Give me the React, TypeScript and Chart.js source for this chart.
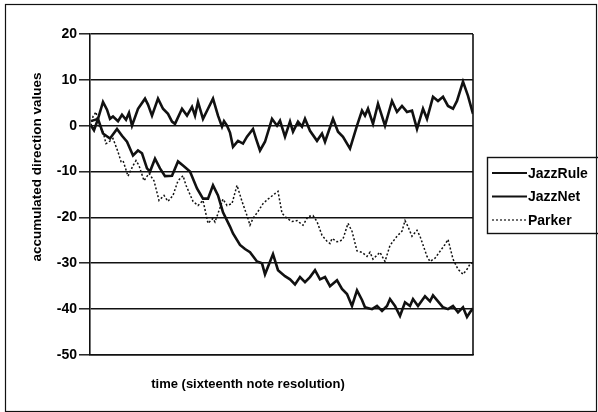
import { useEffect, useRef } from "react";
import { Chart, registerables } from "chart.js";
Chart.register(...registerables);

const TITLE_Y = "accumulated direction values";
const TITLE_X = "time (sixteenth note resolution)";
const SERIES_NAMES = ["JazzRule", "JazzNet", "Parker"];
const Y_MIN = -50;
const Y_MAX = 20;
const Y_STEP = 10;
const T_MAX = 383;

const RULE_T = [1, 4, 8, 13, 17, 20, 23, 28, 32, 36, 39, 42, 48, 55, 58, 62, 68, 73, 78, 82, 85, 92, 97, 102, 105, 108, 113, 118, 123, 128, 132, 134, 137, 140, 143, 148, 153, 157, 163, 166, 170, 175, 182, 187, 190, 195, 200, 203, 208, 212, 215, 220, 227, 232, 235, 243, 248, 253, 260, 267, 272, 275, 278, 283, 288, 295, 302, 307, 312, 317, 322, 327, 333, 337, 343, 348, 353, 358, 363, 367, 373, 378, 383];
const RULE_V = [0, -1, 1.5, 5.2, 3.5, 1.5, 2, 1, 2.4, 1.3, 2.8, 0, 3.7, 5.9, 4.6, 2.2, 5.9, 3.7, 2.6, 0.9, 0.4, 3.7, 2.2, 4.1, 2.2, 5.2, 1.5, 3.7, 5.9, 2.2, -0.2, 1, 0, -1.5, -4.6, -3.3, -3.9, -2.4, -0.7, -2.8, -5.4, -3.5, 1.5, 0, 1.1, -2.4, 0.9, -1.3, 0.9, -0.2, 1.5, -1.1, -3.3, -1.7, -3.5, 1.5, -1.3, -2.4, -5, 0, 3.3, 2.2, 3.7, 0.4, 4.8, 0, 5.4, 3, 4.3, 3, 3.3, -0.7, 3.7, 1.5, 6.3, 5.4, 6.3, 4.3, 3.7, 5.4, 9.6, 6.5, 2.6];

const NET_T = [1, 8, 13, 20, 27, 32, 37, 43, 48, 52, 57, 60, 65, 70, 75, 82, 88, 93, 100, 107, 113, 118, 123, 128, 133, 140, 143, 150, 155, 160, 167, 172, 175, 183, 188, 195, 200, 205, 210, 215, 220, 225, 230, 235, 240, 247, 252, 257, 262, 267, 272, 275, 282, 287, 292, 297, 300, 305, 310, 315, 320, 323, 328, 335, 340, 343, 348, 353, 358, 363, 368, 373, 377, 380, 383];
const NET_V = [1, 1.5, -1.7, -2.8, -0.7, -2.2, -3.5, -6.5, -5.4, -6, -9.3, -10, -7.2, -9.3, -11, -10.9, -7.8, -8.7, -10, -13.7, -15.9, -15.9, -13, -15.2, -18.9, -22, -23.5, -26, -26.9, -27.6, -29.6, -30, -32.4, -28, -31.5, -32.8, -33.5, -34.6, -33, -34.1, -33, -31.5, -33.5, -33, -35, -33.7, -35.6, -36.7, -39.3, -35.9, -38, -39.6, -40, -39.3, -40.4, -39.3, -37.8, -39.3, -41.5, -38.5, -39.3, -37.8, -39.3, -37.2, -38.3, -37, -38.3, -39.6, -40, -39.3, -40.7, -39.6, -41.7, -40.7, -39.8];

const PARKER_T = [1, 3, 6, 9, 13, 16, 19, 23, 28, 31, 33, 38, 43, 46, 49, 54, 59, 64, 69, 74, 78, 83, 88, 93, 96, 103, 108, 113, 118, 123, 125, 133, 137, 142, 147, 152, 157, 160, 163, 168, 173, 178, 185, 188, 192, 197, 202, 207, 213, 218, 223, 227, 232, 237, 240, 242, 245, 247, 250, 253, 258, 262, 267, 272, 277, 280, 283, 290, 295, 300, 307, 312, 315, 318, 322, 327, 330, 337, 340, 345, 350, 355, 358, 363, 368, 373, 377, 380, 383];
const PARKER_V = [0, 2, 3, 0, -1.3, -3.9, -3.5, -2.8, -5.7, -7.8, -7.6, -11, -8.7, -7.6, -8.7, -12, -10.4, -12, -16.3, -15.2, -16.5, -15.2, -12, -10.9, -13, -16.5, -17.4, -16.3, -21.3, -20.2, -21, -16, -17.4, -17, -13, -16.5, -19.6, -21.7, -20.2, -18.7, -17, -16, -14.8, -14.3, -19.1, -20.2, -20.9, -20.7, -21.7, -19.8, -19.6, -20.9, -23.9, -25.2, -25.7, -24.6, -25, -25.3, -25.2, -24.7, -21.3, -23, -27.3, -27.6, -28.5, -27.6, -29.1, -27.6, -29.6, -26.1, -24.1, -23, -20.7, -22, -24.1, -22.8, -24.1, -28.5, -29.6, -28.9, -27.4, -25.9, -24.8, -29.1, -31.3, -32.4, -31.3, -30.2, -29.8];

const INK = "#111";
const FONT = "'Liberation Sans', Arial, sans-serif";

function toPoints(ts: number[], vs: number[]) {
  return ts.map((t, i) => ({ x: t, y: vs[i] }));
}

const framePlugin = {
  id: "frame",
  afterDraw(chart: any) {
    const ctx = chart.ctx;
    const a = chart.chartArea;
    ctx.save();
    ctx.strokeStyle = INK;
    // outer border
    ctx.lineWidth = 1.2;
    ctx.strokeRect(5.5, 4.5, 591, 407);
    // right border of plot area
    ctx.lineWidth = 1.6;
    ctx.beginPath();
    ctx.moveTo(a.right, a.top);
    ctx.lineTo(a.right, a.bottom);
    ctx.stroke();
    // axis titles
    ctx.fillStyle = "#000";
    ctx.font = `bold 13.5px ${FONT}`;
    ctx.textAlign = "center";
    ctx.textBaseline = "middle";
    ctx.save();
    ctx.translate(37, 167);
    ctx.rotate(-Math.PI / 2);
    ctx.fillText(TITLE_Y, 0, 0);
    ctx.restore();
    ctx.font = `bold 13px ${FONT}`;
    ctx.fillText(TITLE_X, 248, 384);
    // legend
    const lx = 487, ly = 157, lw = 112, lh = 76;
    ctx.lineWidth = 1.4;
    ctx.strokeStyle = INK;
    ctx.strokeRect(lx + 0.5, ly + 0.5, lw, lh);
    ctx.font = `bold 14px ${FONT}`;
    ctx.textBaseline = "middle";
    ctx.textAlign = "left";
    chart.data.datasets.forEach((ds: any, i: number) => {
      const y = ly + 16 + i * 23.5;
      ctx.beginPath();
      ctx.strokeStyle = ds.borderColor;
      ctx.lineWidth = ds.legendWidth;
      ctx.setLineDash(ds.borderDash || []);
      ctx.moveTo(lx + 5, y);
      ctx.lineTo(lx + 40, y);
      ctx.stroke();
      ctx.setLineDash([]);
      ctx.fillStyle = "#000";
      ctx.fillText(ds.label, lx + 41, y + 1);
    });
    ctx.restore();
  },
};

export default function App() {
  const ref = useRef<HTMLCanvasElement | null>(null);
  useEffect(() => {
    document.body.style.margin = "0";
    const canvas = ref.current!;
    const chart = new Chart(canvas, {
      type: "line",
      data: {
        datasets: [
          {
            label: SERIES_NAMES[0],
            data: toPoints(RULE_T, RULE_V),
            borderColor: INK,
            borderWidth: 2.6,
            pointRadius: 0,
            tension: 0,
            legendWidth: 2,
          } as any,
          {
            label: SERIES_NAMES[1],
            data: toPoints(NET_T, NET_V),
            borderColor: INK,
            borderWidth: 2.6,
            pointRadius: 0,
            tension: 0,
            legendWidth: 2,
          } as any,
          {
            label: SERIES_NAMES[2],
            data: toPoints(PARKER_T, PARKER_V),
            borderColor: "#111",
            borderWidth: 1.5,
            borderDash: [2, 2],
            pointRadius: 0,
            tension: 0,
            legendWidth: 1.2,
          } as any,
        ],
      },
      options: {
        animation: false,
        responsive: false,
        devicePixelRatio: 1,
        layout: { padding: { top: 34, right: 125, bottom: 0, left: 0 } },
        plugins: { legend: { display: false }, tooltip: { enabled: false } },
        scales: {
          x: {
            type: "linear",
            min: 0,
            max: T_MAX,
            ticks: { display: false },
            grid: { display: false },
            border: { display: true, color: INK, width: 1.6 },
            title: { display: false, text: TITLE_X },
            afterFit: (s: any) => {
              s.height = 57;
            },
          },
          y: {
            min: Y_MIN,
            max: Y_MAX,
            ticks: {
              stepSize: Y_STEP,
              color: "#000",
              padding: 2,
              font: { family: FONT, size: 14, weight: "bold" },
            },
            grid: {
              color: INK,
              lineWidth: 1.6,
              drawTicks: true,
              tickLength: 11,
              tickColor: INK,
              tickWidth: 1.4,
            },
            border: { display: true, color: INK, width: 1.6 },
            title: { display: false, text: TITLE_Y },
            afterFit: (s: any) => {
              s.width = 90;
            },
          },
        },
      },
      plugins: [framePlugin],
    });
    return () => chart.destroy();
  }, []);
  return <canvas ref={ref} width={598} height={412} style={{ display: "block" }} />;
}
